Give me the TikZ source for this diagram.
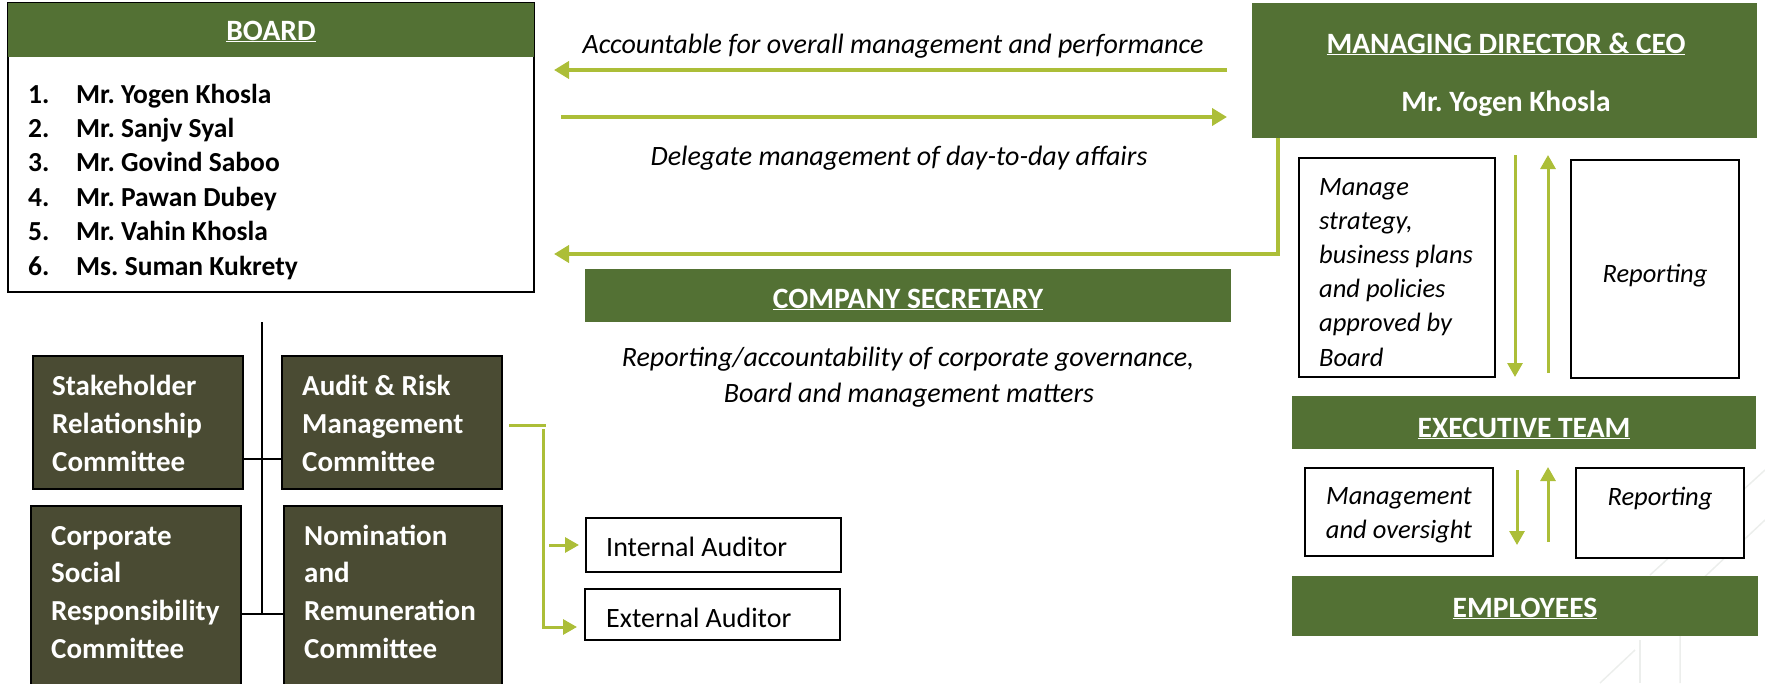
\documentclass[tikz,border=0pt]{standalone}
\usepackage{fontspec}
\setmainfont{Carlito}
\usetikzlibrary{arrows.meta}
\definecolor{hdrgreen}{RGB}{83,113,52}
\definecolor{lime}{RGB}{172,190,56}
\definecolor{olive}{RGB}{74,75,51}
\definecolor{faint}{RGB}{236,238,236}
\frenchspacing
\begin{document}
\begin{tikzpicture}[x=1pt,y=-1pt,
  hdr/.style={fill=hdrgreen, draw=none, inner sep=0pt},
  wbox/.style={draw=black, line width=2pt, fill=white, inner sep=0pt},
  cbox/.style={draw=black, line width=2pt, fill=olive, inner sep=0pt},
  htxt/.style={inner sep=0pt, text=white, font=\fontsize{29.5}{35}\selectfont\bfseries},
  ctxt/.style={inner sep=0pt, anchor=base west, text=white, font=\fontsize{29}{35}\selectfont\bfseries},
  ntxt/.style={inner sep=0pt, anchor=base west, font=\fontsize{27.5}{32}\selectfont\bfseries},
  itxt/.style={inner sep=0pt, anchor=base, font=\fontsize{26.5}{32}\selectfont\itshape},
  bitxt/.style={inner sep=0pt, anchor=base, font=\fontsize{28}{32}\selectfont\itshape},
  ilt/.style={inner sep=0pt, anchor=base west, font=\fontsize{26.5}{32}\selectfont\itshape},
  rtxt/.style={inner sep=0pt, anchor=base west, font=\fontsize{28}{32}\selectfont},
  bigarr/.style={draw=lime, line width=4pt, -{Triangle[length=15pt,width=17pt]}},
  smarr/.style={draw=lime, line width=3pt, -{Triangle[length=14pt,width=15pt]}},
  gline/.style={draw=lime, line width=3pt},
  kline/.style={draw=black, line width=1.6pt}]
\useasboundingbox (0,0) rectangle (1765,683);
% faint background pattern
\begin{scope}[draw=faint, line width=1.5pt]
  \draw (1765,470) -- (1650,575);
  \draw (1765,520) -- (1680,600) -- (1680,683);
  \draw (1640,640) -- (1640,683);
  \draw (1600,683) -- (1635,650);
\end{scope}
% BOARD
\node[wbox, minimum width=526pt, minimum height=289pt] (board) at (271,147.5) {};
\node[hdr, minimum width=526pt, minimum height=54pt] (boardhdr) at (271,30) {};
\node[htxt, anchor=base] (boardt) at (271,40) {\underline{BOARD}};
\foreach \nm [count=\i] in {Mr. Yogen Khosla, Mr. Sanjv Syal, Mr. Govind Saboo, Mr. Pawan Dubey, Mr. Vahin Khosla, Ms. Suman Kukrety}{
  \node[ntxt] (bn\i) at (28,{103+(\i-1)*34.4}) {\i.};
  \node[ntxt] (bm\i) at (76,{103+(\i-1)*34.4}) {\nm};
}
% MD & CEO
\node[hdr, minimum width=505pt, minimum height=135pt] (md) at (1504.5,70.5) {};
\node[htxt, anchor=base] (mdt) at (1506,53) {\underline{MANAGING DIRECTOR \& CEO}};
\node[htxt, anchor=base] (mdn) at (1506,111) {Mr. Yogen Khosla};
% arrows board <-> md
\coordinate (a1s) at (1227,70);
\coordinate (a1e) at (554,70);
\coordinate (a2s) at (561,117);
\coordinate (a2e) at (1227,117);
\draw[bigarr] (a1s) -- (a1e);
\draw[bigarr] (a2s) -- (a2e);
\node[bitxt] (acc) at (893,53) {Accountable for overall management and performance};
\node[bitxt] (del) at (899,165) {Delegate management of day-to-day affairs};
% md -> board via company secretary line
\coordinate (a3s) at (1278,138);
\coordinate (a3c) at (1278,254);
\coordinate (a3e) at (554,254);
\draw[bigarr] (a3s) -- (a3c) -- (a3e);
% company secretary
\node[hdr, minimum width=646pt, minimum height=53pt] (cs) at (908,295.5) {};
\node[htxt, anchor=base] (cst) at (908,308) {\underline{COMPANY SECRETARY}};
\node[bitxt] (rep1) at (908,366) {Reporting/accountability of corporate governance,};
\node[bitxt] (rep2) at (909,402) {Board and management matters};
% manage box
\node[wbox, minimum width=196pt, minimum height=219pt] (manage) at (1397,267.5) {};
\foreach \ln [count=\i] in {Manage, {strategy,}, business plans, and policies, approved by, Board}{
  \node[ilt] (ml\i) at (1319,{195+(\i-1)*34.2}) {\ln};
}
\node[wbox, minimum width=168pt, minimum height=218pt] (rep1box) at (1655,269) {};
\node[itxt] (rep1t) at (1655,282) {Reporting};
\coordinate (d1s) at (1515,155);
\coordinate (d1e) at (1515,377);
\coordinate (u1s) at (1548,373);
\coordinate (u1e) at (1548,155);
\draw[smarr] (d1s) -- (d1e);
\draw[smarr] (u1s) -- (u1e);
% executive team
\node[hdr, minimum width=464pt, minimum height=53pt] (exec) at (1524,422.5) {};
\node[htxt, anchor=base] (exect) at (1524,437) {\underline{EXECUTIVE TEAM}};
\node[wbox, minimum width=188pt, minimum height=88pt] (mgmt) at (1399,512) {};
\node[itxt] (mg1) at (1399,504) {Management};
\node[itxt] (mg2) at (1399,538) {and oversight};
\node[wbox, minimum width=168pt, minimum height=90pt] (rep2box) at (1660,513) {};
\node[itxt] (rep2t) at (1660,505) {Reporting};
\coordinate (d2s) at (1517,470);
\coordinate (d2e) at (1517,545);
\coordinate (u2s) at (1548,542);
\coordinate (u2e) at (1548,467);
\draw[smarr] (d2s) -- (d2e);
\draw[smarr] (u2s) -- (u2e);
% employees
\node[hdr, minimum width=466pt, minimum height=60pt] (emp) at (1525,606) {};
\node[htxt, anchor=base] (empt) at (1525,617) {\underline{EMPLOYEES}};
% committees
\coordinate (vt) at (262,322);
\coordinate (vb) at (262,614);
\draw[kline] (vt) -- (vb);
\node[cbox, minimum width=210pt, minimum height=133pt] (stake) at (138,422.5) {};
\node[cbox, minimum width=220pt, minimum height=133pt] (audit) at (392,422.5) {};
\node[cbox, minimum width=210pt, minimum height=184pt] (csr) at (136,598) {};
\node[cbox, minimum width=218pt, minimum height=184pt] (nom) at (393,598) {};
\draw[kline] (stake.east |- 0,459) -- (audit.west |- 0,459);
\draw[kline] (csr.east |- 0,614) -- (nom.west |- 0,614);
\foreach \ln [count=\i] in {Stakeholder, Relationship, Committee}{
  \node[ctxt] (st\i) at (52,{395+(\i-1)*38}) {\ln};
}
\foreach \ln [count=\i] in {Audit \& Risk, Management, Committee}{
  \node[ctxt] (au\i) at (302,{395+(\i-1)*38}) {\ln};
}
\foreach \ln [count=\i] in {Corporate, Social, Responsibility, Committee}{
  \node[ctxt] (cr\i) at (51,{545+(\i-1)*37.7}) {\ln};
}
\foreach \ln [count=\i] in {Nomination, and, Remuneration, Committee}{
  \node[ctxt] (no\i) at (304,{545+(\i-1)*37.7}) {\ln};
}
% auditors
\node[wbox, minimum width=255pt, minimum height=54pt] (int) at (713.5,545) {};
\node[wbox, minimum width=255pt, minimum height=51pt] (ext) at (712.5,614.5) {};
\node[rtxt] (intt) at (606,556) {Internal Auditor};
\node[rtxt] (extt) at (606,627) {External Auditor};
\coordinate (g1) at (546,425);
\coordinate (g2) at (543,429);
\coordinate (g3) at (543,627);
\coordinate (g4) at (577,627);
\coordinate (g5) at (549,545);
\coordinate (g6) at (579,545);
\draw[gline] ([xshift=6pt]audit.east |- g1) -- (g1);
\draw[smarr] (g2) -- (g3) -- (g4);
\draw[smarr] (g5) -- (g6);
\end{tikzpicture}
\end{document}
